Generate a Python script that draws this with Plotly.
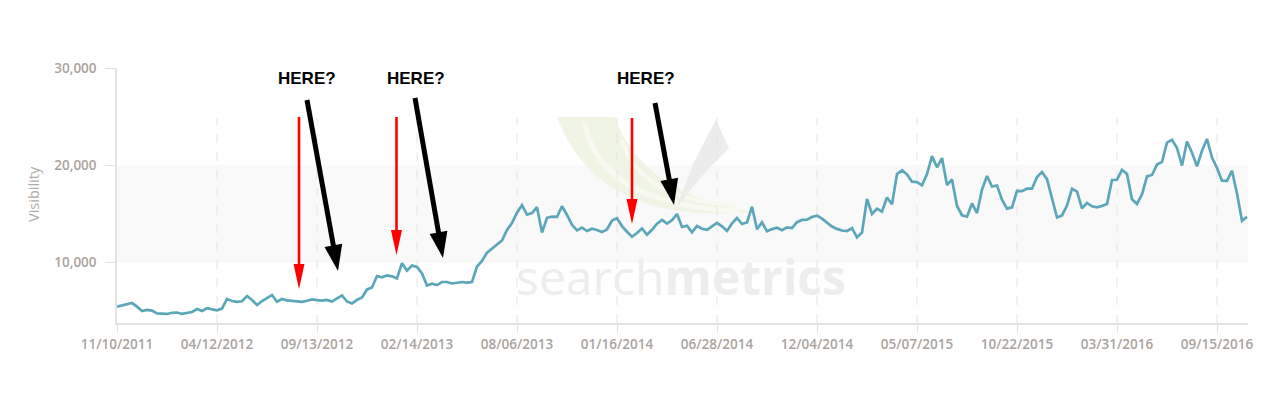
import plotly.graph_objects as go

# ---------------- data ----------------
tick_labels = ["11/10/2011", "04/12/2012", "09/13/2012", "02/14/2013", "08/06/2013",
               "01/16/2014", "06/28/2014", "12/04/2014", "05/07/2015", "10/22/2015",
               "03/31/2016", "09/15/2016"]
points_per_tick = 20

visibility = [
    5480, 5630, 5770, 5850, 5480, 5030, 5150, 5080, 4780, 4750,
    4730, 4850, 4880, 4730, 4830, 4930, 5240, 5030, 5320, 5210,
    5100, 5280, 6270, 6060, 5980, 6030, 6570, 6170, 5650, 6060,
    6370, 6680, 5990, 6270, 6130, 6080, 5980, 5980, 6090, 6220,
    6150, 6110, 6170, 6000, 6320, 6630, 6010, 5800, 6180, 6420,
    7250, 7450, 8630, 8490, 8690, 8590, 8370, 9950, 9180, 9700,
    9560, 8890, 7650, 7840, 7700, 8010, 8010, 7860, 7940, 8010,
    7950, 8010, 9600, 10170, 11030, 11460, 11920, 12280, 13360, 14080,
    15130, 15900, 14930, 15100, 15700, 13100, 14610, 14720, 14710, 15800,
    14900, 13890, 13320, 13610, 13250, 13490, 13360, 13140, 13410, 14320,
    14560, 13760, 13180, 12660, 13050, 13510, 12860, 13380, 14010, 14390,
    14010, 14360, 15000, 13670, 13800, 13120, 13770, 13480, 13380, 13780,
    14090, 13740, 13250, 14030, 14590, 13970, 14130, 15750, 13440, 14140,
    13220, 13450, 13590, 13330, 13630, 13560, 14160, 14390, 14410, 14690,
    14830, 14530, 14140, 13710, 13470, 13300, 13250, 13540, 12600, 13100,
    16540, 15000, 15540, 15250, 16700, 16000, 19110, 19490, 19070, 18320,
    18280, 17950, 19110, 20950, 19800, 20750, 17980, 18550, 15820, 14870,
    14720, 16080, 15100, 17500, 18900, 17820, 17930, 16470, 15550, 15680,
    17370, 17350, 17600, 17600, 18800, 19300, 18580, 16750, 14640, 14850,
    15870, 17600, 17300, 15580, 16130, 15790, 15690, 15820, 16030, 18490,
    18520, 19540, 19110, 16510, 16030, 17020, 18870, 19010, 20080, 20360,
    22340, 22620, 21780, 19980, 22450, 21290, 19900, 21500, 22700, 20790,
    19730, 18420, 18410, 19450, 17100, 14300, 14720,
]
y_ticks = [10000, 20000, 30000]
y_range = [3800, 30000]
band = [10000, 20000]
notes = ["HERE?", "HERE?", "HERE?"]

# ---------------- layout geometry (pixels) ----------------
W, H = 1280, 398
L, R, T, B = 117, 1248, 68, 323   # plot area edges in pixels


def px(x):
    return (x - L) / (R - L)


def py(y):
    return (B - y) / (B - T)


def arrow_shapes(x0, y0, x1, y1, shaft, head_len, head_w, color):
    dx, dy = x1 - x0, y1 - y0
    n = (dx * dx + dy * dy) ** 0.5
    ux, uy = dx / n, dy / n
    nx, ny = -uy, ux
    bx, by = x1 - ux * head_len, y1 - uy * head_len
    sx, sy = bx + ux * 2, by + uy * 2
    shaft_shape = dict(type="line", xref="paper", yref="paper",
                       x0=px(x0), y0=py(y0), x1=px(sx), y1=py(sy),
                       line=dict(color=color, width=shaft), layer="above")
    p = [(x1, y1), (bx + nx * head_w / 2, by + ny * head_w / 2),
         (bx - nx * head_w / 2, by - ny * head_w / 2)]
    path = "M " + " L ".join(f"{px(a):.5f},{py(b):.5f}" for a, b in p) + " Z"
    head_shape = dict(type="path", xref="paper", yref="paper", path=path,
                      fillcolor=color, line=dict(width=0), layer="above")
    return [shaft_shape, head_shape]


def poly_path(points, closed=True):
    s = "M " + " L ".join(f"{px(a):.5f},{py(b):.5f}" for a, b in points)
    return s + (" Z" if closed else "")


def quad_path(p0, c, p1):
    return (f"M {px(p0[0]):.5f},{py(p0[1]):.5f} Q {px(c[0]):.5f},{py(c[1]):.5f} "
            f"{px(p1[0]):.5f},{py(p1[1]):.5f}")


x_idx = list(range(len(visibility)))
tickvals = [i * points_per_tick for i in range(len(tick_labels))]

fig = go.Figure()
fig.add_trace(go.Scatter(x=x_idx, y=visibility, mode="lines",
                         line=dict(color="#5ba6b9", width=2.7),
                         hoverinfo="skip", showlegend=False))

shapes = []
# light band
shapes.append(dict(type="rect", xref="paper", yref="y", x0=0, x1=1,
                   y0=band[0], y1=band[1], fillcolor="#f9f9f9",
                   line=dict(width=0), layer="below"))
# watermark logo (green swoosh + grey dart)
crescent = (f"M {px(557):.5f},{py(117):.5f} L {px(615):.5f},{py(117):.5f} "
            f"Q {px(640):.5f},{py(192):.5f} {px(752):.5f},{py(212):.5f} "
            f"Q {px(598):.5f},{py(226):.5f} {px(557):.5f},{py(117):.5f} Z")
shapes.append(dict(type="path", xref="paper", yref="paper", path=crescent,
                   fillcolor="#f0f4e4", line=dict(width=0), layer="below"))
shapes.append(dict(type="path", xref="paper", yref="paper",
                   path=quad_path((585, 124), (600, 205), (740, 211)),
                   line=dict(color="#f8faf1", width=5), layer="below"))
shapes.append(dict(type="path", xref="paper", yref="paper",
                   path=quad_path((622, 140), (640, 200), (735, 205)),
                   line=dict(color="#f8faf1", width=4), layer="below"))
shapes.append(dict(type="path", xref="paper", yref="paper",
                   path=poly_path([(716, 120), (729, 148), (702, 176), (676, 208), (694, 162)]),
                   fillcolor="#ececec", line=dict(width=0), layer="below"))
# vertical dashed gridlines
for tv in tickvals[1:]:
    shapes.append(dict(type="line", xref="x", yref="paper", x0=tv, x1=tv,
                       y0=0, y1=py(118), line=dict(color="#e4e4e4", width=1, dash="dash"),
                       layer="below"))
# red arrows
for (x, y0, y1) in [(299, 117, 289), (396.5, 117, 255), (632, 118, 224)]:
    shapes += arrow_shapes(x, y0, x, y1, 2.6, 25, 11, "#ff0000")
# black arrows
for (x0, y0, x1, y1) in [(307, 100, 338, 271), (415, 98, 443, 258), (655, 103, 674, 205)]:
    shapes += arrow_shapes(x0, y0, x1, y1, 5, 26, 18, "#000000")

annotations = []
for txt, cx in zip(notes, [307, 416, 646]):
    annotations.append(dict(text=f"<b>{txt}</b>", xref="paper", yref="paper",
                             x=px(cx), y=py(78), showarrow=False,
                             xanchor="center", yanchor="middle",
                             font=dict(family="Liberation Sans, Arial", size=17, color="#000000")))
annotations.append(dict(text="search<b>metrics</b>", xref="paper", yref="paper",
                        x=px(681), y=py(276), showarrow=False,
                        xanchor="center", yanchor="middle",
                        font=dict(family="Open Sans", size=48, color="#ededed")))
annotations.append(dict(text="Visibility", xref="paper", yref="paper",
                        x=px(33), y=py(194), textangle=-90, showarrow=False,
                        xanchor="center", yanchor="middle",
                        font=dict(family="Open Sans", size=14.5, color="#b3aca6")))

tick_font = dict(family="Open Sans", size=13.5, color="#aaa39d", weight=600)

fig.update_layout(
    width=W, height=H,
    margin=dict(l=L, r=W - R, t=T, b=H - B, pad=0),
    paper_bgcolor="white", plot_bgcolor="white",
    showlegend=False,
    shapes=shapes,
    annotations=annotations,
    xaxis=dict(range=[0, (R - L) / 5.0], tickvals=tickvals, ticktext=tick_labels,
               showgrid=False, zeroline=False, showline=True, linecolor="#e3e3e3",
               linewidth=2, ticks="outside", ticklen=8, tickcolor="#e3e3e3",
               tickfont=tick_font, fixedrange=True),
    yaxis=dict(range=y_range, tickvals=y_ticks, tickformat=",",
               showgrid=False, zeroline=False, showline=True, linecolor="#e3e3e3",
               linewidth=1.5, ticks="outside", ticklen=10, tickcolor="#e3e3e3",
               ticklabelstandoff=6, tickfont=tick_font, fixedrange=True),
)

fig.write_html("out.html")
